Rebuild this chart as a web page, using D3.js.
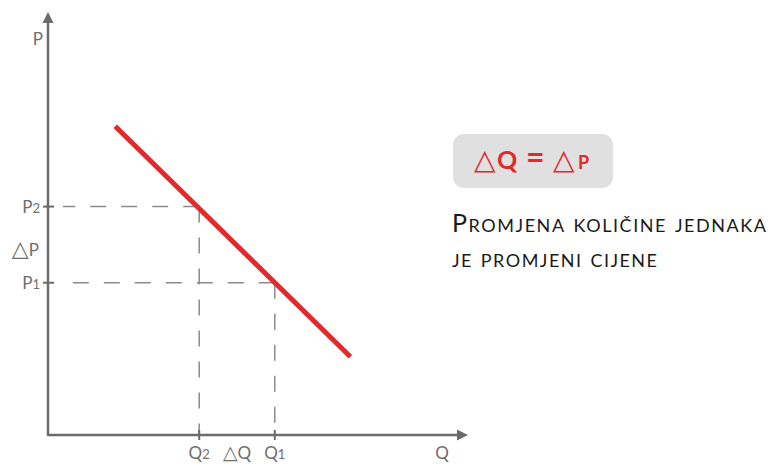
<!DOCTYPE html>
<html>
<head>
<meta charset="utf-8">
<script src="https://cdn.jsdelivr.net/npm/d3@7"></script>
<style>
  html, body { margin: 0; padding: 0; background: #fff; }
  svg { display: block; }
</style>
</head>
<body>
<svg id="chart" width="769" height="464"></svg>
<script>
// Demand curve endpoints (quantity, price) in chart units
const demandQ = [16, 72];
const demandP = [73, 18.5];
// Marked points on the axes
const quantityTicks = [{ q: 36, label: "Q", sub: "2" }, { q: 54, label: "Q", sub: "1" }];
const priceTicks = [{ p: 54, label: "P", sub: "2" }, { p: 36, label: "P", sub: "1" }];
// Guide lines: each point on the curve projected to both axes
const guideQ = [36, 54];
const guideP = [54, 36];
const axisTitles = ["Q", "P"];
const deltaSymbol = "△";
const deltaLabels = ["Q", "P"];
const equationParts = [
  { t: "△", kind: "sym", dx: 0 },
  { t: "Q", kind: "txt", dx: 23 },
  { t: "=", kind: "eq", dx: 52 },
  { t: "△", kind: "sym", dx: 79 },
  { t: "p", kind: "txt", dx: 104 }
];
const captionLines = ["Promjena količine jednaka", "je promjeni cijene"];

const svg = d3.select("#chart");
const font = "Lato, 'Open Sans', sans-serif";
const symFont = "'DejaVu Sans', sans-serif";
const axisColor = "#6b6b6b";
const red = "#e02a2b";

const x = d3.scaleLinear().domain([0, 100]).range([48, 468]);
const y = d3.scaleLinear().domain([0, 100]).range([435, 12]);

// Dashed guide lines
const guides = svg.append("g")
  .attr("stroke", "#8a8a8a")
  .attr("stroke-width", 1.5)
  .attr("stroke-dasharray", "16,15")
  .attr("fill", "none");
guideQ.forEach((q, i) => {
  const p = guideP[i];
  guides.append("line")
    .attr("x1", x(q)).attr("x2", x(q))
    .attr("y1", y(p)).attr("y2", y(0));
  guides.append("line")
    .attr("x1", x(q)).attr("x2", x(0) + 15 + i * 9)
    .attr("y1", y(p)).attr("y2", y(p));
});

// Axes with arrowheads
const axes = svg.append("g");
axes.append("line")
  .attr("x1", x(0)).attr("y1", y(0))
  .attr("x2", x(0)).attr("y2", y(100) + 8)
  .attr("stroke", axisColor).attr("stroke-width", 2.5);
axes.append("line")
  .attr("x1", x(0) - 1).attr("y1", y(0))
  .attr("x2", x(100) - 8).attr("y2", y(0))
  .attr("stroke", axisColor).attr("stroke-width", 2.5);
axes.append("path")
  .attr("d", `M${x(0)},${y(100)} L${x(0) - 5.5},${y(100) + 11} L${x(0) + 5.5},${y(100) + 11} Z`)
  .attr("fill", axisColor);
axes.append("path")
  .attr("d", `M${x(100)},${y(0)} L${x(100) - 11},${y(0) - 5.5} L${x(100) - 11},${y(0) + 5.5} Z`)
  .attr("fill", axisColor);

// Tick marks
priceTicks.forEach(t => {
  axes.append("line")
    .attr("x1", x(0) - 5).attr("x2", x(0) + 6)
    .attr("y1", y(t.p)).attr("y2", y(t.p))
    .attr("stroke", axisColor).attr("stroke-width", 2);
});
quantityTicks.forEach(t => {
  axes.append("line")
    .attr("x1", x(t.q)).attr("x2", x(t.q))
    .attr("y1", y(0) - 5).attr("y2", y(0) + 5)
    .attr("stroke", axisColor).attr("stroke-width", 2);
});

// Demand line
svg.append("line")
  .attr("x1", x(demandQ[0])).attr("y1", y(demandP[0]))
  .attr("x2", x(demandQ[1])).attr("y2", y(demandP[1]))
  .attr("stroke", red).attr("stroke-width", 5);

// Axis labels
const labels = svg.append("g")
  .attr("font-family", font).attr("font-size", 17).attr("fill", "#6e6e6e");

function subLabel(g, xPos, yPos, anchor, t) {
  const txt = g.append("text")
    .attr("x", xPos).attr("y", yPos).attr("text-anchor", anchor);
  txt.append("tspan").text(t.label);
  txt.append("tspan").attr("font-size", 13).text(t.sub);
  return txt;
}
function deltaLabel(g, xPos, yPos, anchor, letter, size) {
  const txt = g.append("text")
    .attr("x", xPos).attr("y", yPos).attr("text-anchor", anchor);
  txt.append("tspan").attr("font-family", symFont).attr("font-size", size)
    .text(deltaSymbol);
  txt.append("tspan").text(letter);
  return txt;
}
const baseY = 459;
priceTicks.forEach(t => subLabel(labels, x(0) - 8, y(t.p) + 6, "end", t));
quantityTicks.forEach(t => subLabel(labels, x(t.q), baseY, "middle", t));

labels.append("text").attr("x", 43).attr("y", 45)
  .attr("text-anchor", "end").text(axisTitles[1]);
labels.append("text").attr("x", 442).attr("y", baseY)
  .attr("text-anchor", "middle").text(axisTitles[0]);
deltaLabel(labels, (x(guideQ[0]) + x(guideQ[1])) / 2, baseY, "middle", deltaLabels[0], 19);
deltaLabel(labels, 39, (y(guideP[0]) + y(guideP[1])) / 2 + 11, "end", deltaLabels[1], 22);

// Highlighted equation box
svg.append("rect")
  .attr("x", 453).attr("y", 134).attr("width", 160).attr("height", 54)
  .attr("rx", 11).attr("fill", "#e0e0e0");
const eq = svg.append("text")
  .attr("y", 169)
  .attr("font-family", font).attr("font-size", 25).attr("font-weight", 700)
  .attr("font-variant", "small-caps")
  .attr("fill", red);
equationParts.forEach(part => {
  const ts = eq.append("tspan").attr("x", 474 + part.dx).text(part.t);
  if (part.kind === "sym") {
    ts.attr("font-family", symFont).attr("font-size", 28).attr("font-weight", 700);
  } else if (part.kind === "eq") {
    ts.attr("font-size", 32);
  }
});

// Caption
const captionWidths = [314, 205];
captionLines.forEach((line, i) => {
  svg.append("text")
    .attr("x", 452).attr("y", 232 + i * 35)
    .attr("font-family", font).attr("font-size", 25)
    .attr("font-variant", "small-caps")
    .attr("fill", "#1a1a1a")
    .attr("textLength", captionWidths[i])
    .attr("lengthAdjust", "spacing")
    .text(line);
});
</script>
</body>
</html>
